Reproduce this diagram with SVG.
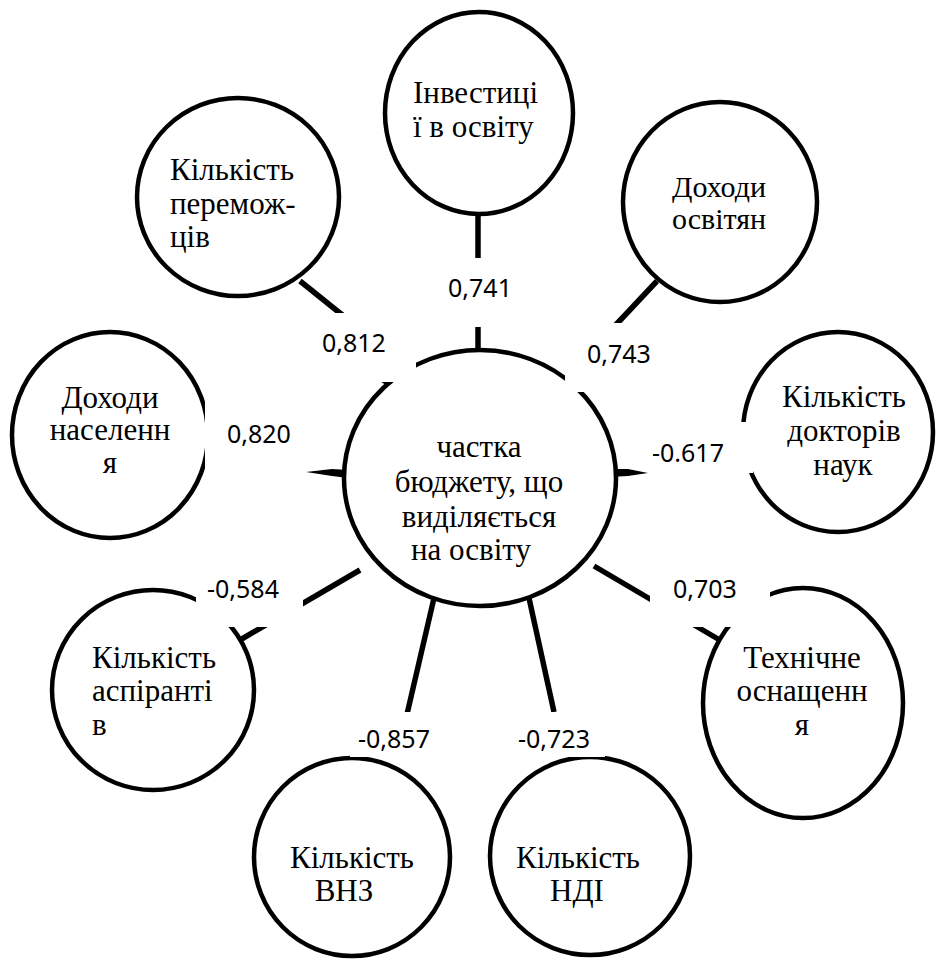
<svg xmlns="http://www.w3.org/2000/svg" width="936" height="961" viewBox="0 0 936 961">
<style>
.n{fill:#fff;stroke:#000;stroke-width:4.5}
.t{font-family:"Liberation Serif","Times New Roman",serif;font-size:31px;fill:#000}
.c{text-anchor:middle}
.l{font-family:"Noto Sans","Open Sans",sans-serif;font-size:25px;fill:#000}
.bx{fill:#fff;stroke:none}
.ln{stroke:#000;stroke-width:5.5;fill:none}
</style>
<rect width="936" height="961" fill="#fff"/>
<g id="connectors">
<line class="ln" x1="478" y1="210" x2="478" y2="354"/>
<line class="ln" x1="300" y1="281" x2="412" y2="371"/>
<line class="ln" x1="657" y1="281" x2="566" y2="378"/>
<line class="ln" x1="360" y1="570" x2="240" y2="640"/>
<line class="ln" x1="434" y1="598" x2="401" y2="740"/>
<line class="ln" x1="529" y1="598" x2="554" y2="712"/>
<line class="ln" x1="594" y1="566" x2="718" y2="639"/>
<polygon points="306,472 332,469 348,470 348,478 332,476" fill="#000"/>
<polygon points="610,469 628,469 648,473 628,476 610,477" fill="#000"/>
<polygon points="380,381 402,381 394,391" fill="#000"/>
</g>
<g id="n-center">
<ellipse class="n" cx="480" cy="478" rx="136" ry="128"/>
<text class="t c" x="479" y="457">частка</text>
<text class="t c" x="479" y="492">бюджету, що</text>
<text class="t c" x="479" y="527">виділяється</text>
<text class="t c" x="471" y="560">на освіту</text>
</g>
<g id="n-invest">
<ellipse class="n" cx="479" cy="113" rx="94" ry="101"/>
<text class="t" x="413" y="103">Інвестиці</text>
<text class="t" x="413" y="137">ї в освіту</text>
</g>
<g id="n-winners">
<ellipse class="n" cx="238" cy="197" rx="101" ry="99"/>
<text class="t" x="170" y="180">Кількість</text>
<text class="t" x="170" y="214">перемож-</text>
<text class="t" x="170" y="247">ців</text>
</g>
<g id="n-teachers-income">
<ellipse class="n" cx="720" cy="202" rx="97" ry="100"/>
<text class="t c" x="719" y="197" style="font-size:30px">Доходи</text>
<text class="t c" x="719" y="229" style="font-size:30px">освітян</text>
</g>
<g id="n-pop-income">
<ellipse class="n" cx="110" cy="435" rx="98" ry="103"/>
<text class="t c" x="110" y="408">Доходи</text>
<text class="t c" x="110" y="440">населенн</text>
<text class="t c" x="110" y="473">я</text>
</g>
<g id="n-doctors">
<ellipse class="n" cx="838" cy="432" rx="95" ry="100"/>
<text class="t c" x="844" y="407">Кількість</text>
<text class="t c" x="844" y="441">докторів</text>
<text class="t c" x="843" y="475">наук</text>
</g>
<g id="n-postgrad">
<ellipse class="n" cx="153" cy="690" rx="101" ry="100"/>
<text class="t" x="92" y="668">Кількість</text>
<text class="t" x="92" y="701">аспіранті</text>
<text class="t" x="92" y="735">в</text>
</g>
<g id="n-tech">
<ellipse class="n" cx="803" cy="703" rx="100" ry="115"/>
<text class="t c" x="802" y="668">Технічне</text>
<text class="t c" x="802" y="701">оснащенн</text>
<text class="t c" x="802" y="735">я</text>
</g>
<g id="n-vnz">
<ellipse class="n" cx="352" cy="857" rx="98" ry="99"/>
<text class="t c" x="352" y="868">Кількість</text>
<text class="t c" x="344" y="901">ВНЗ</text>
</g>
<g id="n-ndi">
<ellipse class="n" cx="590" cy="856" rx="100" ry="99"/>
<text class="t c" x="578" y="868">Кількість</text>
<text class="t c" x="577" y="901">НДІ</text>
</g>
<g id="labels">
<rect class="bx" x="435" y="258" width="90" height="69"/>
<text class="l c" x="480" y="297">0,741</text>
<rect class="bx" x="312" y="313" width="104" height="69"/>
<text class="l" x="322" y="352">0,812</text>
<rect class="bx" x="565" y="323" width="100" height="69"/>
<text class="l" x="587" y="363">0,743</text>
<rect class="bx" x="205" y="398" width="102" height="74"/>
<text class="l" x="227" y="443">0,820</text>
<rect class="bx" x="649" y="422" width="104" height="51"/>
<text class="l" x="652" y="462">-0.617</text>
<rect class="bx" x="196" y="575" width="107" height="52"/>
<text class="l" x="207" y="598">-0,584</text>
<rect class="bx" x="650" y="575" width="120" height="52"/>
<text class="l" x="673" y="598">0,703</text>
<rect class="bx" x="350" y="712" width="95" height="45"/>
<text class="l" x="358" y="748">-0,857</text>
<rect class="bx" x="510" y="712" width="95" height="45"/>
<text class="l" x="518" y="748">-0,723</text>
</g>
</svg>
